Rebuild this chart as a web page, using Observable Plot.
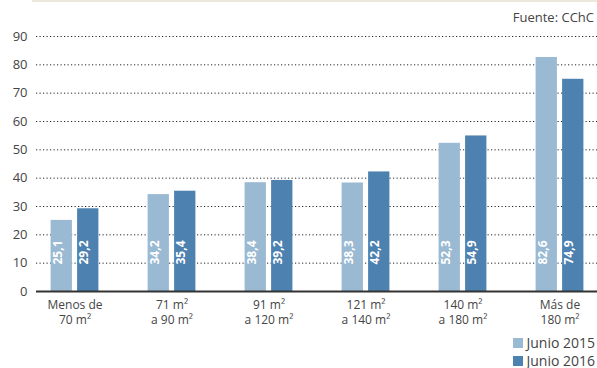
<!DOCTYPE html>
<html><head><meta charset="utf-8">
<script src="https://cdn.jsdelivr.net/npm/d3@7"></script>
<script src="https://cdn.jsdelivr.net/npm/@observablehq/plot@0.6"></script>
<style>
body{margin:0;background:#fff;font-family:"Open Sans",sans-serif;}
#wrap{position:relative;width:597px;height:368px;overflow:hidden;}
#topline{position:absolute;left:32px;right:0;top:0;height:2px;background:#ece8dc;}
#source{position:absolute;right:3px;top:8px;font-size:13px;color:#444;}
#chart{position:absolute;left:0;top:0;}
#legend{position:absolute;right:2px;top:335px;font-size:14px;line-height:1;color:#444;}
.item{display:flex;align-items:center;height:16px;margin-bottom:2px;}
.sw{width:10px;height:10px;margin-right:3px;}
</style></head>
<body><div id="wrap"><div id="topline"></div><div id="chart"></div><div id="source"></div><div id="legend"></div></div>
<script>
const categories = ["Menos de\n70 m²", "71 m²\na 90 m²", "91 m²\na 120 m²", "121 m²\na 140 m²", "140 m²\na 180 m²", "Más de\n180 m²"];
const series = ["Junio 2015", "Junio 2016"];
const values2015 = [25.1, 34.2, 38.4, 38.3, 52.3, 82.6];
const values2016 = [29.2, 35.4, 39.2, 42.2, 54.9, 74.9];
const yTicks = [0, 10, 20, 30, 40, 50, 60, 70, 80, 90];
const sourceText = "Fuente: CChC";
const colors = ["#9ab9d2", "#4d81b0"];

const rows2015 = categories.map((c, i) => ({category: c, value: values2015[i]}));
const rows2016 = categories.map((c, i) => ({category: c, value: values2016[i]}));
const fmt = v => d3.format(".1f")(v).replace(".", ",");

const valueLabel = {x: "category", text: d => fmt(d.value), frameAnchor: "bottom", dy: -27, rotate: -90,
  textAnchor: "start", fill: "white", fontWeight: "bold", fontSize: 12};

const chart = Plot.plot({
  width: 597, height: 335,
  marginLeft: 36, marginRight: 0, marginTop: 36, marginBottom: 44,
  style: {fontFamily: "'Open Sans', sans-serif", background: "transparent"},
  x: {domain: categories, range: [24.15, 610.35], padding: 0, axis: null, label: null},
  y: {domain: [0, 90], axis: null, label: null},
  marks: [
    Plot.ruleY(yTicks.filter(d => d > 0), {stroke: "#222", strokeDasharray: "1.2,2.3", strokeWidth: 1}),
    Plot.barY(rows2015, {x: "category", y: "value", fill: colors[0], insetLeft: 24.6, insetRight: 51.1}),
    Plot.barY(rows2016, {x: "category", y: "value", fill: colors[1], insetLeft: 51.1, insetRight: 24.6}),
    Plot.ruleY([0], {stroke: "#333", strokeWidth: 2}),
    Plot.text(rows2015, {...valueLabel, dx: -13.25}),
    Plot.text(rows2016, {...valueLabel, dx: 13.25}),
    Plot.axisY({ticks: yTicks, tickSize: 0, tickPadding: 9, fontSize: 13, color: "#444", label: null}),
    Plot.axisX({tickSize: 0, tickPadding: 6, fontSize: 12, lineHeight: 1.3, color: "#444", label: null})
  ]
});
document.getElementById("chart").appendChild(chart);
document.getElementById("source").textContent = sourceText;
const legend = document.getElementById("legend");
series.forEach((s, i) => {
  const item = document.createElement("div");
  item.className = "item";
  const sw = document.createElement("span");
  sw.className = "sw";
  sw.style.background = colors[i];
  const t = document.createElement("span");
  t.textContent = s;
  item.appendChild(sw); item.appendChild(t);
  legend.appendChild(item);
});
</script>
</body></html>
